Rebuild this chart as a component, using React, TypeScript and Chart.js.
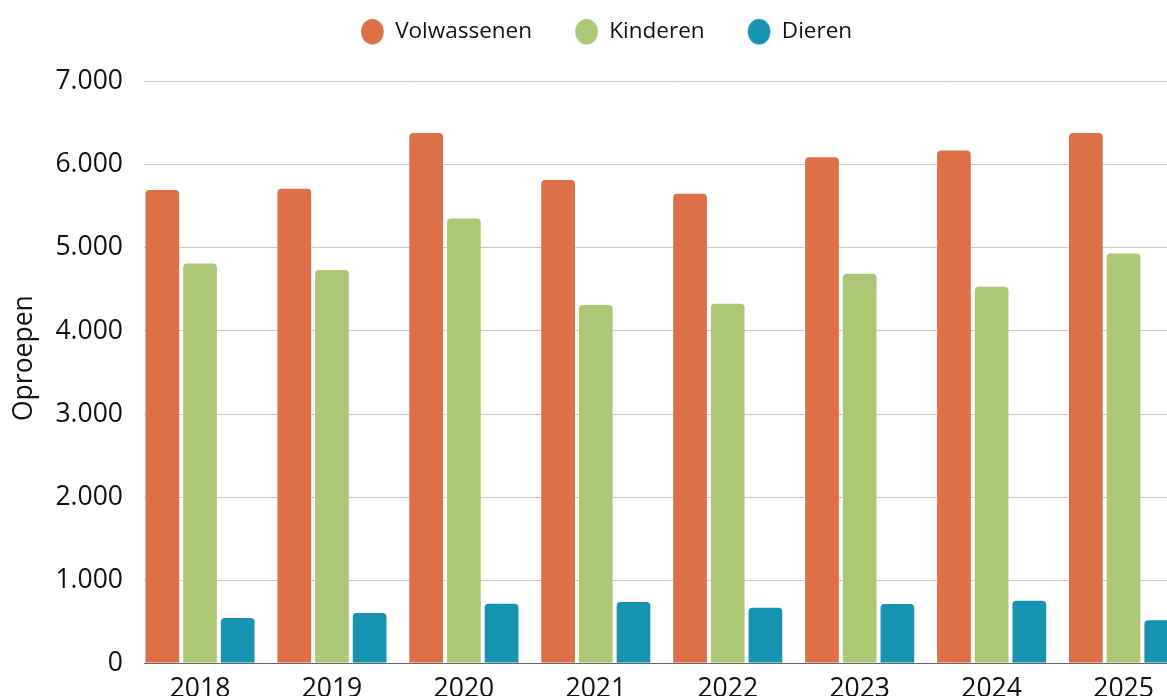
import React, { useEffect, useRef } from "react";
import { Chart, registerables } from "chart.js";

Chart.register(...registerables);

const years = ["2018", "2019", "2020", "2021", "2022", "2023", "2024", "2025"];
const volwassenen = [5710, 5725, 6395, 5830, 5665, 6105, 6185, 6395];
const kinderen = [4825, 4745, 5365, 4325, 4340, 4700, 4545, 4945];
const dieren = [555, 615, 728, 750, 680, 725, 765, 530];
const seriesNames = ["Volwassenen", "Kinderen", "Dieren"];
const seriesColors = ["#DD7047", "#ACC775", "#1693B1"];
const yTicks = [0, 1000, 2000, 3000, 4000, 5000, 6000, 7000];
const yAxisTitle = "Oproepen";

const FONT = "'Open Sans', 'Noto Sans', sans-serif";
const CANVAS_W = 1213;
const CANVAS_H = 720;
const X_MIN = -0.4245;
const X_MAX = 7.678;
const Y_MAX = 7347;

function formatNL(v: number): string {
  return String(Math.round(v)).replace(/\B(?=(\d{3})+(?!\d))/g, ".");
}

export default function App() {
  const ref = useRef<HTMLCanvasElement | null>(null);

  useEffect(() => {
    if (!ref.current) return;
    const allSeries = [volwassenen, kinderen, dieren];
    const chart = new Chart(ref.current, {
      type: "bar",
      data: {
        datasets: allSeries.map((vals, s) => ({
          label: seriesNames[s],
          data: vals.map((v, i) => ({ x: i, y: v })),
          backgroundColor: seriesColors[s],
          borderColor: "rgba(255,255,255,0.35)",
          borderWidth: 1,
          borderSkipped: "start",
          borderRadius: 5,
          categoryPercentage: 0.857,
          barPercentage: 0.947,
          pointStyle: "circle",
        })),
      },
      options: {
        responsive: false,
        animation: false,
        devicePixelRatio: 1,
        layout: { padding: { top: -22.5, left: 0, right: 0, bottom: 13 } },
        plugins: {
          tooltip: { enabled: false },
          legend: {
            display: true,
            position: "top",
            align: "center",
            labels: {
              usePointStyle: true,
              pointStyle: "circle",
              pointStyleWidth: 23,
              boxHeight: 18.4,
              padding: 43,
              color: "#111",
              font: { family: FONT, size: 22.5 },
            },
          },
        },
        scales: {
          x: {
            type: "linear",
            offset: false,
            min: X_MIN,
            max: X_MAX,
            grid: { display: false },
            border: { display: true, color: "#666", width: 1 },
            afterBuildTicks: (scale: any) => {
              scale.ticks = years.map((_, i) => ({ value: i }));
            },
            ticks: {
              autoSkip: false,
              maxRotation: 0,
              padding: 2,
              color: "#111",
              font: { family: FONT, size: 26.5 },
              callback: (v: any) => {
                const n = Number(v);
                return Number.isInteger(n) && years[n] ? years[n] : "";
              },
            },
          },
          y: {
            type: "linear",
            min: 0,
            max: Y_MAX,
            afterFit: (scale: any) => {
              scale.width = 144;
            },
            afterBuildTicks: (scale: any) => {
              scale.ticks = yTicks.map((v) => ({ value: v }));
            },
            grid: { color: "#c8c8c8", lineWidth: 1, drawTicks: false },
            border: { display: false },
            title: {
              display: true,
              text: yAxisTitle,
              color: "#111",
              font: { family: FONT, size: 26.5 },
              padding: { top: 9, bottom: 0 },
            },
            ticks: {
              autoSkip: false,
              padding: 21,
              color: "#111",
              font: { family: FONT, size: 26.5 },
              callback: (v: any) => formatNL(Number(v)),
            },
          },
        },
      },
    } as any);
    return () => chart.destroy();
  }, []);

  return (
    <div
      style={{
        position: "fixed",
        left: 0,
        top: 0,
        width: 1167,
        height: 696,
        overflow: "hidden",
        background: "#fff",
      }}
    >
      <canvas
        ref={ref}
        width={CANVAS_W}
        height={CANVAS_H}
        style={{ width: CANVAS_W, height: CANVAS_H, display: "block" }}
      />
    </div>
  );
}
